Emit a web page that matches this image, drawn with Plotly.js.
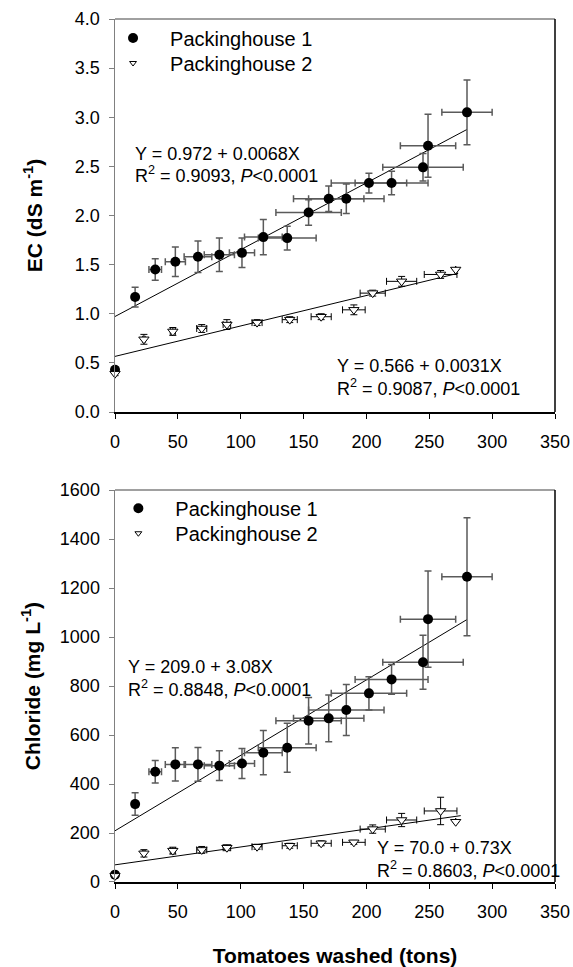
<!DOCTYPE html>
<html><head><meta charset="utf-8">
<script src="https://cdn.plot.ly/plotly-3.0.1.min.js"></script>
<style>html,body{margin:0;padding:0;background:#fff}</style>
</head><body><div id="chart" style="width:573px;height:967px"></div>
<script>
// ---------- data ----------
// Packinghouse 1 (filled circles)
const tonsP1    = [0, 16, 32, 48, 66, 83, 101, 118, 137, 154, 170, 184, 202, 220, 245, 249, 280];
const tonsErrP1 = [0, 2, 5, 8, 11, 12, 10, 15, 23, 26, 28, 30, 30, 29, 32, 22, 20];
const ecP1      = [0.43, 1.17, 1.45, 1.53, 1.58, 1.60, 1.62, 1.78, 1.77, 2.03, 2.17, 2.17, 2.33, 2.33, 2.49, 2.71, 3.05];
const ecErrP1   = [0.03, 0.10, 0.11, 0.15, 0.16, 0.17, 0.15, 0.18, 0.12, 0.13, 0.13, 0.15, 0.10, 0.12, 0.14, 0.32, 0.33];
const clP1      = [30, 318, 450, 480, 480, 475, 484, 528, 548, 658, 668, 702, 770, 827, 897, 1073, 1246];
const clErrP1   = [8, 46, 46, 68, 69, 61, 61, 90, 100, 95, 95, 104, 68, 61, 110, 196, 241];

// Packinghouse 2 (open triangles)
const tonsP2    = [0, 23, 46, 69, 89, 113, 139, 164, 190, 205, 228, 259, 271];
const tonsErrP2 = [0, 1, 2, 4, 3, 4, 6, 8, 9, 10, 12, 13, 0];
const ecP2      = [0.39, 0.74, 0.82, 0.85, 0.89, 0.91, 0.94, 0.97, 1.04, 1.21, 1.33, 1.40, 1.45];
const ecErrP2   = [0.02, 0.05, 0.04, 0.04, 0.05, 0.03, 0.03, 0.03, 0.05, 0.03, 0.05, 0.04, 0];
const clP2      = [25, 117, 128, 131, 140, 144, 148, 158, 162, 216, 253, 290, 246];
const clErrP2   = [4, 15, 14, 14, 12, 10, 10, 10, 8, 17, 27, 56, 0];

// fitted regression lines (end points)
const fitEcX1 = [0, 280];  const fitEcY1 = [0.972, 2.876];
const fitEcX2 = [0, 273];  const fitEcY2 = [0.566, 1.412];
const fitClX1 = [0, 280];  const fitClY1 = [209.0, 1071.4];
const fitClX2 = [0, 275];  const fitClY2 = [70.0, 270.8];

const seriesNames = ['Packinghouse 1', 'Packinghouse 2'];
const xTicks  = [0, 50, 100, 150, 200, 250, 300, 350];
const ecTicks = [0, 0.5, 1.0, 1.5, 2.0, 2.5, 3.0, 3.5, 4.0];
const clTicks = [0, 200, 400, 600, 800, 1000, 1200, 1400, 1600];

// ---------- styling ----------
const FONT = 'Liberation Sans, Arial, sans-serif';
const circleErr = {color: '#5a5a5a', thickness: 1.5, width: 3.5};
const triErr    = {color: '#000', thickness: 1, width: 3.5};

function fitTrace(x, y, xa, ya) {
  return {x, y, xaxis: xa, yaxis: ya, type: 'scatter', mode: 'lines',
          line: {color: '#000', width: 1}, showlegend: false, hoverinfo: 'skip'};
}
function p1Trace(x, xe, y, ye, xa, ya) {
  return {x, y, xaxis: xa, yaxis: ya, type: 'scatter', mode: 'markers', showlegend: false,
          cliponaxis: false,
          marker: {symbol: 'circle', size: 10, color: '#000'},
          error_y: Object.assign({type: 'data', array: ye, visible: true}, circleErr),
          error_x: Object.assign({type: 'data', array: xe, visible: true}, circleErr)};
}
function p2Trace(x, xe, y, ye, xa, ya) {
  return {x, y, xaxis: xa, yaxis: ya, type: 'scatter', mode: 'markers', showlegend: false,
          cliponaxis: false,
          marker: {symbol: 'triangle-down', size: 9, color: '#fff', line: {color: '#000', width: 1}},
          error_y: Object.assign({type: 'data', array: ye, visible: true}, triErr),
          error_x: Object.assign({type: 'data', array: xe, visible: true}, triErr)};
}
function legendTrace(name, isP1, xa, ya, lg) {
  return {x: [null], y: [null], xaxis: xa, yaxis: ya, type: 'scatter', mode: 'markers',
          name, legend: lg, showlegend: true,
          marker: isP1 ? {symbol: 'circle', size: 10, color: '#000'}
                       : {symbol: 'triangle-down', size: 6, color: '#fff', line: {color: '#000', width: 1}}};
}

const traces = [
  fitTrace(fitEcX1, fitEcY1, 'x', 'y'),
  fitTrace(fitEcX2, fitEcY2, 'x', 'y'),
  p1Trace(tonsP1, tonsErrP1, ecP1, ecErrP1, 'x', 'y'),
  p2Trace(tonsP2, tonsErrP2, ecP2, ecErrP2, 'x', 'y'),
  fitTrace(fitClX1, fitClY1, 'x2', 'y2'),
  fitTrace(fitClX2, fitClY2, 'x2', 'y2'),
  p1Trace(tonsP1, tonsErrP1, clP1, clErrP1, 'x2', 'y2'),
  p2Trace(tonsP2, tonsErrP2, clP2, clErrP2, 'x2', 'y2'),
  legendTrace(seriesNames[0], true,  'x',  'y',  'legend'),
  legendTrace(seriesNames[1], false, 'x',  'y',  'legend2'),
  legendTrace(seriesNames[0], true,  'x2', 'y2', 'legend3'),
  legendTrace(seriesNames[1], false, 'x2', 'y2', 'legend4')
];

const xAxisBase = {
  range: [0, 350], tickvals: xTicks, ticks: 'outside', ticklen: 5, tickwidth: 1, tickcolor: '#000',
  showline: true, linecolor: '#000', linewidth: 1.5, showgrid: false, zeroline: false,
  tickfont: {family: FONT, size: 18, color: '#000'}, ticklabelstandoff: 8, fixedrange: true
};
const yAxisBase = {
  ticks: 'outside', ticklen: 5, tickwidth: 1, tickcolor: '#808080',
  showline: true, linecolor: '#808080', linewidth: 1.5, showgrid: false, zeroline: false,
  tickfont: {family: FONT, size: 18, color: '#000'}, ticklabelstandoff: 5, fixedrange: true
};
const titleFont = {family: FONT, size: 21, color: '#000', weight: 'bold'};

function legendBox(x, y) {
  return {x, y, xref: 'paper', yref: 'paper', xanchor: 'left', yanchor: 'middle',
          bgcolor: 'rgba(0,0,0,0)', borderwidth: 0, itemwidth: 64,
          font: {family: FONT, size: 20, color: '#000'}};
}
function note(text, x, y, xa, ya) {
  return {text, x, y, xref: xa, yref: ya, xanchor: 'left', yanchor: 'middle', showarrow: false,
          font: {family: FONT, size: 18, color: '#000'}};
}
function border(xa, ya) {
  return [
    {type: 'line', xref: xa + ' domain', yref: ya + ' domain', x0: 0, x1: 1, y0: 1, y1: 1,
     line: {color: '#808080', width: 1.5}},
    {type: 'line', xref: xa + ' domain', yref: ya + ' domain', x0: 1, x1: 1, y0: 0, y1: 1,
     line: {color: '#000', width: 1.5}}
  ];
}

const layout = {
  width: 573, height: 967,
  margin: {l: 115, r: 18, t: 19, b: 85},
  paper_bgcolor: '#fff', plot_bgcolor: '#fff',
  font: {family: FONT, color: '#000'},
  xaxis:  Object.assign({}, xAxisBase, {anchor: 'y', domain: [0, 1]}),
  yaxis:  Object.assign({}, yAxisBase, {anchor: 'x', domain: [0.5446, 1], range: [0, 4],
            tickvals: ecTicks, tickformat: '.1f',
            title: {text: 'EC (dS m<sup>-1</sup>)', font: titleFont, standoff: 26}}),
  xaxis2: Object.assign({}, xAxisBase, {anchor: 'y2', domain: [0, 1],
            title: {text: 'Tomatoes washed (tons)', font: titleFont, standoff: 30}}),
  yaxis2: Object.assign({}, yAxisBase, {anchor: 'x2', domain: [0, 0.4542], range: [0, 1600],
            tickvals: clTicks,
            title: {text: 'Chloride (mg L<sup>-1</sup>)', font: titleFont, standoff: 13}}),
  legend:  legendBox(-0.0431, 0.9779),
  legend2: legendBox(-0.0431, 0.9490),
  legend3: legendBox(-0.0310, 0.4330),
  legend4: legendBox(-0.0310, 0.4041),
  annotations: [
    note('Y = 0.972 + 0.0068X', 14.1, 2.626, 'x', 'y'),
    note('R<sup>2</sup> = 0.9093, <i>P</i>&lt;0.0001', 14.1, 2.42, 'x', 'y'),
    note('Y = 0.566 + 0.0031X', 175, 0.471, 'x', 'y'),
    note('R<sup>2</sup> = 0.9087, <i>P</i>&lt;0.0001', 175, 0.251, 'x', 'y'),
    note('Y = 209.0 + 3.08X', 9.1, 879, 'x2', 'y2'),
    note('R<sup>2</sup> = 0.8848, <i>P</i>&lt;0.0001', 9.1, 791, 'x2', 'y2'),
    note('Y = 70.0 + 0.73X', 206.7, 137.6, 'x2', 'y2'),
    note('R<sup>2</sup> = 0.8603, <i>P</i>&lt;0.0001', 206.7, 51.8, 'x2', 'y2')
  ],
  shapes: border('x', 'y').concat(border('x2', 'y2'))
};

Plotly.newPlot('chart', traces, layout, {displayModeBar: false, staticPlot: true});
</script>
</body></html>
